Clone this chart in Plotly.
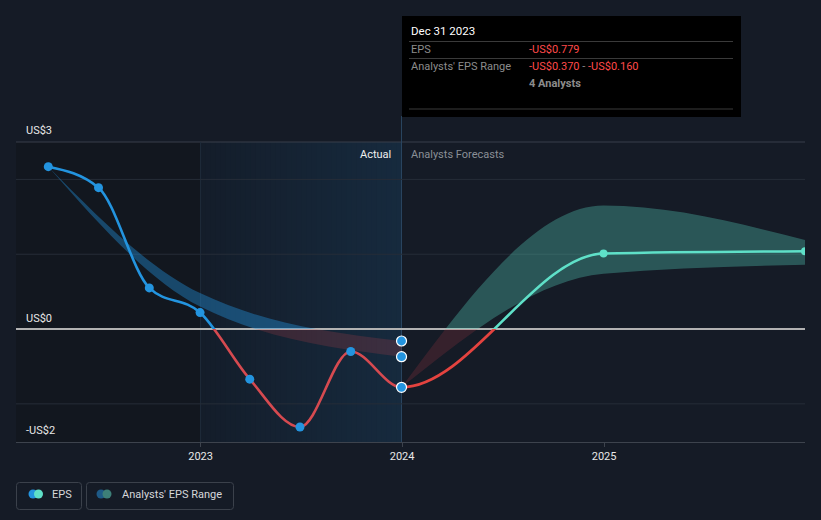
import plotly.graph_objects as go
import pandas as pd
import numpy as np

# ---------------- data ----------------
hist_dates = ['2022-03-31', '2022-06-30', '2022-09-30', '2022-12-31',
              '2023-03-31', '2023-06-30', '2023-09-30', '2023-12-31']
hist_eps = [2.17, 1.89, 0.55, 0.22, -0.67, -1.31, -0.30, -0.779]

fc_dates = ['2023-12-31', '2024-12-31', '2025-12-31']
fc_eps = [-0.779, 1.01, 1.04]
fc_low = [-0.779, 0.74, 0.86]
fc_high = [-0.779, 1.65, 1.19]

past_band_dates = ['2022-03-31', '2022-12-31', '2023-12-31']
past_low = [2.17, 0.30, -0.370]
past_high = [2.17, 0.48, -0.160]

hover_date = '2023-12-31'
hover_vals = [-0.160, -0.370, -0.779]

x_ticks = ['2023-01-01', '2024-01-01', '2025-01-01']
x_ticktext = ['2023', '2024', '2025']
grid_vals = [-1, 1, 2]
y_labels = ['US$3', 'US$0', '-US$2']

# ---------------- layout geometry ----------------
W, H = 821, 520
L, R, T, B = 16, 805, 142, 442
def fx(p): return (p - L) / (R - L)
def fy(p): return (B - p) / (B - T)

y_min, y_max = -1.51, 2.5
zf = -y_min / (y_max - y_min)
x_range = ['2022-01-31 12:00', '2025-12-31']

BG = '#151b26'
BLUE = '#2394df'
TEAL = '#5fe0c8'
RED = '#e4433f'
FONT = 'Roboto'

# ------------- monotone-x cubic curve (same as d3.curveMonotoneX) -------------
def to_num(d):
    return pd.Timestamp(d).value / 86400e9

def to_str(v):
    return pd.Timestamp(int(round(v * 86400e9))).strftime('%Y-%m-%d_%H:%M:%S')

def monotone_segments(dates, ys):
    xs = [to_num(d) for d in dates]
    n = len(xs)
    h = [xs[i + 1] - xs[i] for i in range(n - 1)]
    s = [(ys[i + 1] - ys[i]) / h[i] for i in range(n - 1)]
    t = [0.0] * n
    for i in range(1, n - 1):
        p = (s[i - 1] * h[i] + s[i] * h[i - 1]) / (h[i - 1] + h[i])
        t[i] = (np.sign(s[i - 1]) + np.sign(s[i])) * min(abs(s[i - 1]), abs(s[i]), 0.5 * abs(p))
    if n > 2:
        t[0] = (3 * s[0] - t[1]) / 2
        t[-1] = (3 * s[-1] - t[-2]) / 2
    else:
        t[0] = t[-1] = s[0]
    segs = []
    for i in range(n - 1):
        dx = h[i] / 3
        segs.append(((xs[i], ys[i]), (xs[i] + dx, ys[i] + dx * t[i]),
                     (xs[i + 1] - dx, ys[i + 1] - dx * t[i + 1]), (xs[i + 1], ys[i + 1])))
    return segs

def pt(p):
    return f'{to_str(p[0])},{p[1]:.5f}'

def line_path(segs):
    out = 'M ' + pt(segs[0][0])
    for a, c1, c2, b in segs:
        out += f' C {pt(c1)} {pt(c2)} {pt(b)}'
    return out

def band_path(dates, low, high):
    lo = monotone_segments(dates, low)
    hi = monotone_segments(dates, high)
    out = 'M ' + pt(lo[0][0])
    for a, c1, c2, b in lo:
        out += f' C {pt(c1)} {pt(c2)} {pt(b)}'
    out += ' L ' + pt(hi[-1][3])
    for a, c1, c2, b in reversed(hi):
        out += f' C {pt(c2)} {pt(c1)} {pt(a)}'
    return out + ' Z'

eps_dates = hist_dates + fc_dates[1:]
eps_vals = hist_eps + fc_eps[1:]
eps_segs = monotone_segments(eps_dates, eps_vals)
n_hist_segs = len(hist_dates) - 1
hist_path = line_path(eps_segs[:n_hist_segs])
fc_path = line_path(eps_segs[n_hist_segs:])
past_band = band_path(past_band_dates, past_low, past_high)
fc_band = band_path(fc_dates, fc_low, fc_high)

fig = go.Figure()
# anchor traces so the clipping subplots exist
fig.add_trace(go.Scatter(x=[], y=[], yaxis='y2', showlegend=False, hoverinfo='skip'))
fig.add_trace(go.Scatter(x=[], y=[], yaxis='y3', showlegend=False, hoverinfo='skip'))

# ---- markers (y4, full domain, drawn last) ----
fig.add_trace(go.Scatter(x=hist_dates[:-1], y=hist_eps[:-1], yaxis='y4', mode='markers',
                         marker=dict(size=9, color=BLUE), cliponaxis=False,
                         hoverinfo='skip', showlegend=False))
fig.add_trace(go.Scatter(x=fc_dates[1:], y=fc_eps[1:], yaxis='y4', mode='markers',
                         marker=dict(size=8, color=TEAL), cliponaxis=True,
                         hoverinfo='skip', showlegend=False))
fig.add_trace(go.Scatter(x=[hover_date] * len(hover_vals), y=hover_vals, yaxis='y4', mode='markers',
                         marker=dict(size=10, color=BLUE, line=dict(width=1.2, color='#ffffff')),
                         cliponaxis=False, hoverinfo='skip', showlegend=False))

# ---------------- shapes ----------------
shapes = []
# darker past region
shapes.append(dict(type='rect', xref='x', yref='paper', x0=x_range[0], x1='2023-01-01', y0=0, y1=1,
                   fillcolor='#12171f', line=dict(width=0), layer='below'))
# gradient "last year" region (overlapping rects, no seams)
n = 40
start = pd.Timestamp('2023-01-01')
end = pd.Timestamp('2023-12-31')
c0 = (20, 29, 42)
c1 = (22, 42, 62)
for i in range(n):
    a = start + (end - start) * i / n
    tt = (i + 0.5) / n
    col = tuple(round(c0[k] + (c1[k] - c0[k]) * tt) for k in range(3))
    shapes.append(dict(type='rect', xref='x', yref='paper', x0=a.strftime('%Y-%m-%d %H:%M'),
                       x1='2023-12-31', y0=0, y1=1,
                       fillcolor='rgb(%d,%d,%d)' % col, line=dict(width=0), layer='below'))
# top border line
shapes.append(dict(type='line', xref='paper', yref='paper', x0=0, x1=1, y0=1, y1=1,
                   line=dict(color='#383f4a', width=1), layer='below'))
# 2023 divider
shapes.append(dict(type='line', xref='x', yref='paper', x0='2023-01-01', x1='2023-01-01', y0=0, y1=1,
                   line=dict(color='#1f2c3b', width=1), layer='below'))
# hover line
shapes.append(dict(type='line', xref='x', yref='paper', x0=hover_date, x1=hover_date, y0=0, y1=fy(116),
                   line=dict(color='#2a4660', width=1), layer='below'))
# grid lines + zero line (subplot xy, below)
for gv in grid_vals:
    shapes.append(dict(type='line', xref='x', yref='y', x0=x_range[0], x1=x_range[1], y0=gv, y1=gv,
                       line=dict(color='#262d38', width=1), layer='below'))
shapes.append(dict(type='line', xref='x', yref='y', x0=x_range[0], x1=x_range[1], y0=0, y1=0,
                   line=dict(color='#b2b2b2', width=2), layer='below'))

# bands & lines, clipped to above-zero (y2) / below-zero (y3) subplots
shapes.append(dict(type='path', xref='x', yref='y2', path=past_band, fillcolor='rgba(35,148,223,0.40)',
                   line=dict(width=0), layer='below'))
shapes.append(dict(type='path', xref='x', yref='y2', path=fc_band, fillcolor='rgba(94,224,201,0.30)',
                   line=dict(width=0), layer='below'))
shapes.append(dict(type='path', xref='x', yref='y2', path=hist_path,
                   line=dict(width=2.6, color=BLUE), layer='below'))
shapes.append(dict(type='path', xref='x', yref='y2', path=fc_path,
                   line=dict(width=2.6, color=TEAL), layer='below'))
shapes.append(dict(type='path', xref='x', yref='y3', path=past_band, fillcolor='rgba(230,70,80,0.18)',
                   line=dict(width=0), layer='below'))
shapes.append(dict(type='path', xref='x', yref='y3', path=fc_band, fillcolor='rgba(230,70,80,0.16)',
                   line=dict(width=0), layer='below'))
shapes.append(dict(type='path', xref='x', yref='y3', path=hist_path,
                   line=dict(width=2.6, color='#d64a50'), layer='below'))
shapes.append(dict(type='path', xref='x', yref='y3', path=fc_path,
                   line=dict(width=2.8, color=RED), layer='below'))

# tooltip box
shapes.append(dict(type='rect', xref='paper', yref='paper', x0=fx(402), x1=fx(741), y0=fy(117), y1=fy(16),
                   fillcolor='#000000', line=dict(width=0), layer='above'))
for yy in (41.5, 58.5, 109):
    shapes.append(dict(type='line', xref='paper', yref='paper', x0=fx(409), x1=fx(733), y0=fy(yy), y1=fy(yy),
                       line=dict(color='#3a3a3a', width=1), layer='above'))

def rrect(x0, y0, x1, y1, r=3):
    rx = r / (R - L)
    ry = r / (B - T)
    X0, X1 = fx(x0), fx(x1)
    Y0, Y1 = fy(y1), fy(y0)
    return (f'M {X0+rx},{Y1} L {X1-rx},{Y1} Q {X1},{Y1} {X1},{Y1-ry} '
            f'L {X1},{Y0+ry} Q {X1},{Y0} {X1-rx},{Y0} L {X0+rx},{Y0} '
            f'Q {X0},{Y0} {X0},{Y0+ry} L {X0},{Y1-ry} Q {X0},{Y1} {X0+rx},{Y1} Z')

shapes.append(dict(type='path', xref='paper', yref='paper', path=rrect(16.5, 482.5, 81.5, 509.5),
                   line=dict(color='#3b414b', width=1), layer='above'))
shapes.append(dict(type='path', xref='paper', yref='paper', path=rrect(86.5, 482.5, 233.5, 509.5),
                   line=dict(color='#3b414b', width=1), layer='above'))

def dot(cx, cy, r, color):
    return dict(type='circle', xref='paper', yref='paper', x0=fx(cx - r), x1=fx(cx + r),
                y0=fy(cy + r), y1=fy(cy - r), fillcolor=color, line=dict(width=0), layer='above')

shapes.append(dot(33, 494, 4.5, BLUE))
shapes.append(dot(38.5, 494, 4.5, TEAL))
shapes.append(dot(101, 494, 4.5, '#1e5a87'))
shapes.append(dot(107, 494, 4.5, '#3d7f78'))

# ---------------- annotations ----------------
ann = []
def text(x, y, s, color, size=11, anchor='left', bold=False):
    if bold:
        s = '<b>' + s + '</b>'
    ann.append(dict(xref='paper', yref='paper', x=fx(x), y=fy(y), text=s, showarrow=False,
                    xanchor=anchor, yanchor='middle', font=dict(family=FONT, size=size, color=color)))

text(24, 130, y_labels[0], '#e8e8e8')
text(24, 318, y_labels[1], '#e8e8e8')
text(24, 430, y_labels[2], '#e8e8e8')
text(393, 154, 'Actual', '#f0f0f0', anchor='right')
text(409, 154, 'Analysts Forecasts', '#8a8f96')

RC = '#ff4a4a'
text(409, 31, 'Dec 31 2023', '#ffffff', size=11.5)
text(409, 49.5, 'EPS', '#8c8c8c')
text(527, 49.5, '-US$0.779', RC)
text(409, 66.5, "Analysts' EPS Range", '#8c8c8c')
text(527, 66.5, f'<span style="color:{RC}">-US$0.370</span> - <span style="color:{RC}">-US$0.160</span>',
     '#8c8c8c')
text(527, 83.5, '4 Analysts', '#8c8c8c', bold=True)

text(50, 494, 'EPS', '#d5d7da')
text(120, 494, "Analysts' EPS Range", '#d5d7da')

fig.update_layout(
    width=W, height=H,
    margin=dict(l=L, r=W - R, t=T, b=H - B, pad=0),
    paper_bgcolor=BG, plot_bgcolor='rgba(0,0,0,0)',
    showlegend=False,
    font=dict(family=FONT, size=11, color='#e8e8e8'),
    xaxis=dict(type='date', range=x_range, domain=[0, 1], anchor='free', position=0,
               tickvals=x_ticks, ticktext=x_ticktext, ticks='outside', ticklen=4,
               tickcolor='#3d434d', showline=True, linecolor='#3d434d', linewidth=1,
               showgrid=False, zeroline=False, tickfont=dict(family=FONT, size=11, color='#e8e8e8'),
               fixedrange=True),
    yaxis=dict(range=[y_min, y_max], domain=[0, 1], anchor='x', showticklabels=False, ticks='',
               showgrid=False, zeroline=False, showline=False, fixedrange=True),
    yaxis2=dict(range=[0, y_max], domain=[zf, 1], anchor='x', visible=False, showgrid=False,
                zeroline=False, fixedrange=True),
    yaxis3=dict(range=[y_min, 0], domain=[0, zf], anchor='x', visible=False, showgrid=False,
                zeroline=False, fixedrange=True),
    yaxis4=dict(range=[y_min, y_max], domain=[0, 1], anchor='x', visible=False, showgrid=False,
                zeroline=False, fixedrange=True),
    shapes=shapes,
    annotations=ann,
)

fig.write_html('out.html')
